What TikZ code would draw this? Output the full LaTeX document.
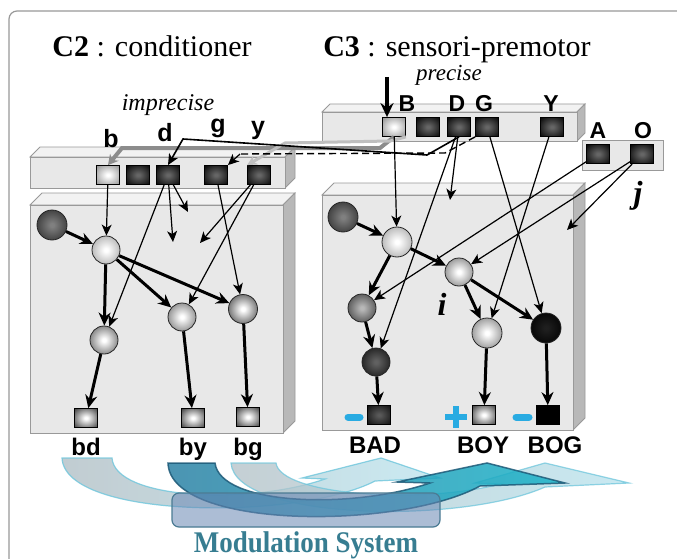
\documentclass[tikz,border=0pt]{standalone}
\usepackage{fontspec}
\usepackage{graphicx}
\setmainfont{Liberation Serif}
\newfontfamily\arl{Liberation Sans}
\usetikzlibrary{arrows.meta}
\colorlet{orbin}{white}\colorlet{orbout}{black}
\pgfdeclareradialshading[orbin,orbout]{orb}{\pgfpoint{0bp}{0bp}}{color(0bp)=(orbin); color(3bp)=(orbin); color(33bp)=(orbout); color(50bp)=(orbout)}
\definecolor{mcyan}{RGB}{110,198,220}
\definecolor{mgray}{RGB}{178,192,198}
\definecolor{mteal}{RGB}{45,130,165}
\definecolor{mdark}{RGB}{30,90,120}
\definecolor{mbox}{RGB}{105,135,180}
\definecolor{mtext}{RGB}{55,125,145}
\definecolor{plusc}{RGB}{41,171,226}
\tikzset{
  face/.style={fill=black!9,draw=black!40,line width=0.8pt},
  topf/.style={fill=black!5,draw=black!40,line width=0.8pt},
  sidef/.style={fill=black!28,draw=black!40,line width=0.8pt},
  orb/.style 2 args={/utils/exec={\colorlet{orbin}{#1}\colorlet{orbout}{#2}}},
}
\newcommand{\slabbox}[5]{%
  \filldraw[topf] (#1,#2) -- (#1+#5,#2-#5) -- (#3+#5,#2-#5) -- (#3,#2) -- cycle;
  \filldraw[sidef] (#3,#2) -- (#3+#5,#2-#5) -- (#3+#5,#4-#5) -- (#3,#4) -- cycle;
  \filldraw[face] (#1,#2) rectangle (#3,#4);}
\begin{document}
\begin{tikzpicture}[x=1pt,y=-1pt,>={Stealth[length=11pt,width=10pt,inset=3pt]},
  sph/.style={circle,draw=black!85,line width=0.8pt,minimum size=28pt,inner sep=0pt,shade,shading=orb},
  sq/.style={rectangle,draw=black,line width=0.8pt,minimum width=23pt,minimum height=19pt,inner sep=0pt,shade,shading=orb},
  thn/.style={->,line width=1.2pt},
  thk/.style={line width=3pt,-{Stealth[length=13pt,width=12pt]}},
  lab/.style={font=\arl\bfseries\fontsize{23}{25}\selectfont,anchor=base,inner sep=0pt},
  olab/.style={font=\arl\bfseries\fontsize{24}{26}\selectfont,anchor=base,inner sep=0pt},
  ttl/.style={font=\fontsize{30}{34}\selectfont,anchor=base,inner sep=0pt},
  itl/.style={font=\itshape\fontsize{24}{26}\selectfont,anchor=base,inner sep=0pt},
  bix/.style={font=\bfseries\itshape\fontsize{32}{34}\selectfont,anchor=base,inner sep=0pt}]
\useasboundingbox (0,0) rectangle (677,559);
\clip (0,0) rectangle (677,559);
\fill[white] (0,0) rectangle (677,559);
\draw[black!40,line width=1.2pt,rounded corners=8pt] (9,11) rectangle (720,600);
\node[ttl] (t2) at (152,57) {\textbf{C2} : conditioner};
\node[ttl] (t3) at (457,57) {\textbf{C3} : sensori-premotor};
\node[itl] (imp) at (168,111) {imprecise};
\node[itl,font=\itshape\fontsize{23}{25}\selectfont] (pre) at (449,81) {precise};
\slabbox{30}{157}{285}{188}{10}
\slabbox{322}{112}{577}{141}{8}
\filldraw[face] (582,140) rectangle (663,170);
\slabbox{30}{205}{283}{433}{12}
\slabbox{322}{195}{573}{430}{12}
% C3 top bar
\node[sq,orb={white}{black!40}] (B) at (394,127) {};
\node[sq,orb={black!60}{black!95}] (x3) at (428,127) {};
\node[sq,orb={black!60}{black!95}] (D) at (459,127) {};
\node[sq,orb={black!60}{black!95}] (G) at (487,127) {};
\node[sq,orb={black!60}{black!95}] (Y) at (552,127) {};
\node[sq,orb={black!60}{black!95}] (A) at (598,154) {};
\node[sq,orb={black!60}{black!95}] (O) at (642,154) {};
\node[lab] (lB) at (407,112) {B};\node[lab] (lD) at (457,112) {D};
\node[lab] (lG) at (484,112) {G};\node[lab] (lY) at (551,112) {Y};
\node[lab] (lA) at (598,139) {A};\node[lab] (lO) at (643,139) {O};
% C2 top bar
\node[sq,orb={white}{black!40}] (b) at (108,175) {};
\node[sq,orb={black!60}{black!95}] (x2) at (138,175) {};
\node[sq,orb={black!60}{black!95}] (d) at (168,175) {};
\node[sq,orb={black!60}{black!95}] (g) at (216,175) {};
\node[sq,orb={black!60}{black!95}] (y) at (259,175) {};
\node[lab,font=\arl\bfseries\fontsize{25}{27}\selectfont] (lb) at (111,147) {b};
\node[lab,font=\arl\bfseries\fontsize{25}{27}\selectfont] (ld) at (165,142) {d};
\node[lab,font=\arl\bfseries\fontsize{25}{27}\selectfont] (lg) at (218,132) {g};
\node[lab,font=\arl\bfseries\fontsize{25}{27}\selectfont] (ly) at (258,135) {y};
% links C3 -> C2
\coordinate (Bin) at (387,77);
\coordinate (gk) at (240,154);
\draw[line width=4pt,black!45,-{Stealth[length=10pt,width=11pt]}] (B.south) -- (380,148) -- (122,148) -- (b.north);
\draw[line width=3pt,black!25,-{Stealth[length=10pt,width=10pt]}] (B.south east) -- (390,141) -- (285,143) -- (y.north west);
\draw[thn,line width=1.6pt] (D.south) -- (427,155) -- (183,139) -- (d.north);
\draw[line width=1.4pt,dash pattern=on 7pt off 4pt] (G.south west) -- (445,153) -- (gk);
\draw[thn] (gk) -- (g.north east);
\draw[line width=3.5pt,-{Stealth[length=14pt,width=13pt]}] (Bin) -- (Bin |- B.north);
% C2 net
\node[sph,minimum size=30pt,orb={black!50}{black!82}] (s2a) at (52,225) {};
\node[sph,orb={white}{black!35}] (s2b) at (106,250) {};
\node[sph,orb={white}{black!62}] (s2c) at (104,340) {};
\node[sph,orb={white}{black!55}] (s2d) at (182,317) {};
\node[sph,minimum size=29pt,orb={white}{black!72}] (s2e) at (243,309) {};
\node[sq,orb={white}{black!70}] (bd) at (86,418) {};
\node[sq,orb={white}{black!70}] (by) at (193,418) {};
\node[sq,orb={white}{black!70}] (bg) at (248,417) {};
\node[olab] (lbd) at (86,455) {bd};
\node[olab] (lby) at (193,455) {by};
\node[olab] (lbg) at (248,455) {bg};
\coordinate (f1) at (173,242);\coordinate (f2) at (188,212);\coordinate (f3) at (200,243);
\draw[thn] (b) -- (s2b);\draw[thn] (d) -- (s2c);\draw[thn] (d) -- (f1);\draw[thn] (d) -- (f2);
\draw[thn] (g) -- (s2e);\draw[thn] (y) -- (s2d);\draw[thn] (y) -- (f3);
\draw[thk] (s2a) -- (s2b);\draw[thk] (s2b) -- (s2c);\draw[thk] (s2b) -- (s2d);\draw[thk] (s2b) -- (s2e);
\draw[thk] (s2c) -- (bd);\draw[thk] (s2d) -- (by);\draw[thk] (s2e) -- (bg);
% C3 net
\node[sph,minimum size=30pt,orb={black!50}{black!82}] (s3a) at (343,217) {};
\node[sph,minimum size=30pt,orb={white}{black!35}] (s3b) at (397,242) {};
\node[sph,orb={white}{black!52}] (s3i) at (459,272) {};
\node[sph,orb={black!28}{black!75}] (s3c) at (362,308) {};
\node[sph,orb={black!62}{black!92}] (s3d) at (376,362) {};
\node[sph,minimum size=30pt,orb={white}{black!50}] (s3e) at (487,333) {};
\node[sph,minimum size=30pt,orb={black!88}{black}] (s3f) at (546,328) {};
\node[sq,orb={black!65}{black!92}] (BAD) at (379,415) {};
\node[sq,orb={white}{black!70}] (BOY) at (484,415) {};
\node[sq,orb={black}{black}] (BOG) at (548,415) {};
\node[olab] (lBAD) at (375,453) {BAD};
\node[olab] (lBOY) at (483,453) {BOY};
\node[olab] (lBOG) at (555,453) {BOG};
\node[bix] (li) at (442,315) {i};
\node[bix] (lj) at (638,203) {j};
\coordinate (f4) at (450,200);\coordinate (f5) at (567,230);
\draw[thn] (B) -- (s3b);\draw[thn] (D) -- (f4);\draw[thn] (D) -- (s3d);
\draw[thn] (G) -- (s3f);\draw[thn] (Y) -- (s3e);
\draw[thn] (A) -- (s3c);\draw[thn] (O) -- (s3i);\draw[thn] (O) -- (f5);
\draw[thk] (s3a) -- (s3b);\draw[thk] (s3b) -- (s3c);\draw[thk] (s3b) -- (s3i);
\draw[thk] (s3c) -- (s3d);\draw[thk] (s3d) -- (BAD);
\draw[thk] (s3i) -- (s3e);\draw[thk] (s3i) -- (s3f);
\draw[thk] (s3e) -- (BOY);\draw[thk] (s3f) -- (BOG);
\draw[plusc,line width=7pt,line cap=round] (348,417) -- (360,417);
\draw[plusc,line width=6pt] (445,417) -- (467,417) (456,406) -- (456,428);
\draw[plusc,line width=7pt,line cap=round] (516,417) -- (529,417);
% modulation
\shade[left color=mgray,right color=mcyan!45,opacity=.8,draw=mcyan,line width=1.2pt]
  (62,458) -- (112,458) .. controls (115,500) and (250,505) .. (325,479) -- (302,478) -- (381,458)
  -- (440,478) -- (375,481) .. controls (300,520) and (65,520) .. (62,458) -- cycle;
\shade[left color=mgray,right color=mcyan!50,opacity=.75,draw=mcyan,line width=1.2pt]
  (231,463) -- (276,463) .. controls (280,495) and (420,505) .. (500,484) -- (475,483) -- (545,463)
  -- (629,483) -- (545,487) .. controls (460,525) and (235,520) .. (231,463) -- cycle;
\shade[left color=mteal,right color=mteal!60!cyan,opacity=.85,draw=mdark,line width=1.5pt]
  (168,463) -- (215,463) .. controls (220,505) and (350,510) .. (430,483) -- (397,482) -- (487,463)
  -- (565,483) -- (480,486) .. controls (400,530) and (170,530) .. (168,463) -- cycle;
\node[draw=mdark!80,fill=mbox,fill opacity=.55,line width=1.2pt,rounded corners=7pt,
  minimum width=268pt,minimum height=34pt] (msb) at (306,510) {};
\node[text=mtext,font=\bfseries\fontsize{30}{32}\selectfont] (ms) at (306,545) {\scalebox{0.9}[1]{Modulation System}};
\end{tikzpicture}
\end{document}
